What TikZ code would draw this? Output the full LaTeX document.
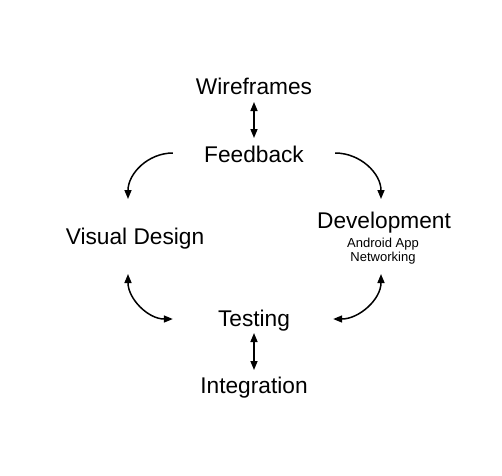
\documentclass[tikz,border=0pt]{standalone}
\usepackage{fontspec}
\setmainfont{Liberation Sans}
\usetikzlibrary{arrows.meta}
\begin{document}
\begin{tikzpicture}[x=1pt,y=-1pt,
  lbl/.style={anchor=base,inner sep=0pt,font=\fontsize{22.7}{26}\selectfont},
  sublbl/.style={anchor=base,inner sep=0pt,font=\fontsize{13}{15}\selectfont},
  arr/.style={line width=1.5pt,-{Triangle[length=9pt,width=7pt]}},
  darr/.style={line width=1.5pt,{Triangle[length=9pt,width=7pt]}-{Triangle[length=9pt,width=7pt]}}]
\useasboundingbox[fill=white] (0,0) rectangle (502,475);
\node[lbl] (wire) at (254,94) {Wireframes};
\node[lbl] (feed) at (254,162) {Feedback};
\node[lbl] (vis) at (135,244) {Visual Design};
\node[lbl] (dev) at (384,228) {Development};
\node[sublbl] (andr) at (383,247) {Android App};
\node[sublbl] (netw) at (383,261) {Networking};
\node[lbl] (test) at (254,326) {Testing};
\node[lbl] (integ) at (254,393) {Integration};
\draw[darr] ([yshift=-8pt]wire.base) -- ([yshift=24pt]feed.base);
\draw[darr] ([yshift=-7pt]test.base) -- ([yshift=23pt]integ.base);
\draw[arr] ([xshift=-31pt,yshift=9pt]feed.base west) to[out=180,in=90] ([xshift=-7pt,yshift=45pt]vis.base);
\draw[arr] ([xshift=31pt,yshift=9pt]feed.base east) to[out=0,in=90] ([xshift=-3pt,yshift=29pt]dev.base);
\draw[darr] ([xshift=-7pt,yshift=-30pt]vis.base) to[out=-90,in=180] ([xshift=-45pt,yshift=7pt]test.base west);
\draw[darr] ([xshift=-2pt,yshift=-13pt]netw.base) to[out=-90,in=0] ([xshift=43pt,yshift=7pt]test.base east);
\end{tikzpicture}
\end{document}
